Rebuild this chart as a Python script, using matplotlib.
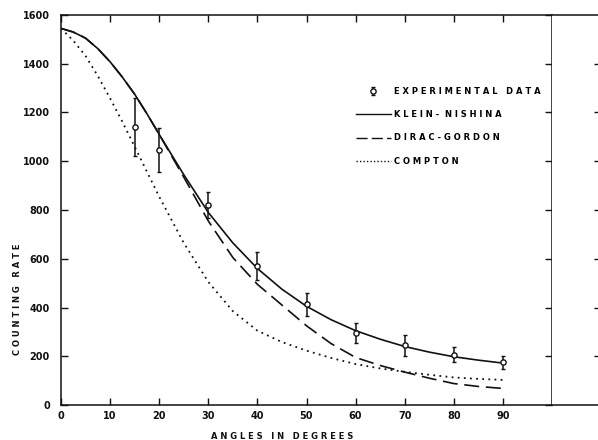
import numpy as np
import matplotlib
matplotlib.use("Agg")
import matplotlib.pyplot as plt
from matplotlib.lines import Line2D

# ── Data ────────────────────────────────────────────────────────────────────
angles = [0, 2.5, 5, 7.5, 10, 12.5, 15, 17.5, 20, 25, 30, 35, 40, 45, 50,
          55, 60, 65, 70, 75, 80, 85, 90]
klein_nishina = [1545, 1530, 1505, 1462, 1408, 1345, 1275, 1195, 1110, 945,
                 790, 665, 560, 475, 405, 350, 305, 270, 240, 217, 198, 184, 172]
dirac_gordon = [1545, 1530, 1505, 1462, 1408, 1345, 1275, 1195, 1110, 935,
                755, 605, 495, 410, 325, 252, 195, 162, 135, 110, 88, 76, 68]
compton = [1545, 1495, 1432, 1350, 1258, 1162, 1060, 957, 855, 665,
           505, 385, 305, 258, 223, 193, 168, 150, 136, 124, 113, 107, 103]

exp_angles = [15, 20, 30, 40, 50, 60, 70, 80, 90]
exp_rate = [1140, 1045, 820, 570, 413, 295, 245, 206, 176]
exp_err = [118, 90, 52, 58, 47, 42, 42, 30, 27]

x_ticks = [0, 10, 20, 30, 40, 50, 60, 70, 80, 90]
y_ticks = [0, 200, 400, 600, 800, 1000, 1200, 1400, 1600]

INK = "#111111"
plt.rcParams["font.family"] = "DejaVu Sans"
plt.rcParams["font.weight"] = "bold"

fig = plt.figure(figsize=(5.98, 4.40), dpi=100)
fig.patch.set_facecolor("white")
W, H = 598.0, 440.0
left, right, bottom, top = 61, 552, 405, 15
ax = fig.add_axes([left / W, (H - bottom) / H, (right - left) / W, (bottom - top) / H])

# ── Curves ──────────────────────────────────────────────────────────────────
ax.plot(angles, klein_nishina, color=INK, lw=1.2, solid_joinstyle="round")
ax.plot(angles, dirac_gordon, color=INK, lw=1.2, linestyle=(0, (9, 4)))
ax.plot(angles, compton, color=INK, lw=1.3, linestyle=(0, (1, 2.4)))
eb = ax.errorbar(exp_angles, exp_rate, yerr=exp_err, fmt="o", mfc="white",
                 mec=INK, ms=3.8, mew=1.0, ecolor=INK, elinewidth=1.1,
                 capsize=1.5, capthick=1.0, zorder=5)

ax.set_xlim(0, 100)
ax.set_ylim(0, 1600)
ax.set_xticks(x_ticks)
ax.set_yticks(y_ticks)
ax.tick_params(direction="in", top=True, right=True, length=5, width=1.0,
               labelsize=7, colors=INK)
ax.tick_params(axis="y", pad=8)
ax.tick_params(axis="x", pad=4)
for lab in ax.get_xticklabels() + ax.get_yticklabels():
    lab.set_fontweight("bold")
for sp in ax.spines.values():
    sp.set_linewidth(1.1)
    sp.set_color(INK)

fig.text(18 / W, 1 - 299 / H, "C O U N T I N G   R A T E", rotation=90,
         ha="center", va="center", fontsize=6, fontweight="bold", color=INK)
ax.text(45, -130, "A N G L E S   I N   D E G R E E S", ha="center", va="center",
        fontsize=6, fontweight="bold", color=INK)

# ── Legend ──────────────────────────────────────────────────────────────────
handles = [
    eb,
    Line2D([], [], color=INK, lw=1.0),
    Line2D([], [], color=INK, lw=1.0, linestyle=(0, (8, 3))),
    Line2D([], [], color=INK, lw=1.0, linestyle=(0, (1, 1.5))),
]
labels = [
    "E X P E R I M E N T A L   D A T A",
    "K L E I N -  N I S H I N A",
    "D I R A C - G O R D O N",
    "C O M P T O N",
]
ax.legend(handles, labels, loc="upper left", bbox_to_anchor=(0.6, 0.815),
          frameon=False, fontsize=6, handlelength=4.2, handletextpad=0.4,
          labelspacing=1.7, borderpad=0, borderaxespad=0)

# ── Neighbouring panel (cut off at the right edge) ──────────────────────────
ax2 = fig.add_axes([right / W, (H - bottom) / H, 48 / W, (bottom - top) / H])
ax2.set_ylim(0, 1600)
ax2.set_yticks(y_ticks[1:-1])
ax2.set_xticks([])
ax2.tick_params(axis="y", direction="in", left=False, right=True, length=4,
                width=1.0, labelleft=False, labelright=False, colors=INK)
ax2.spines["left"].set_visible(False)
for s in ("top", "bottom", "right"):
    ax2.spines[s].set_linewidth(1.1)
    ax2.spines[s].set_color(INK)

fig.savefig("out.png", dpi=100, facecolor="white")
